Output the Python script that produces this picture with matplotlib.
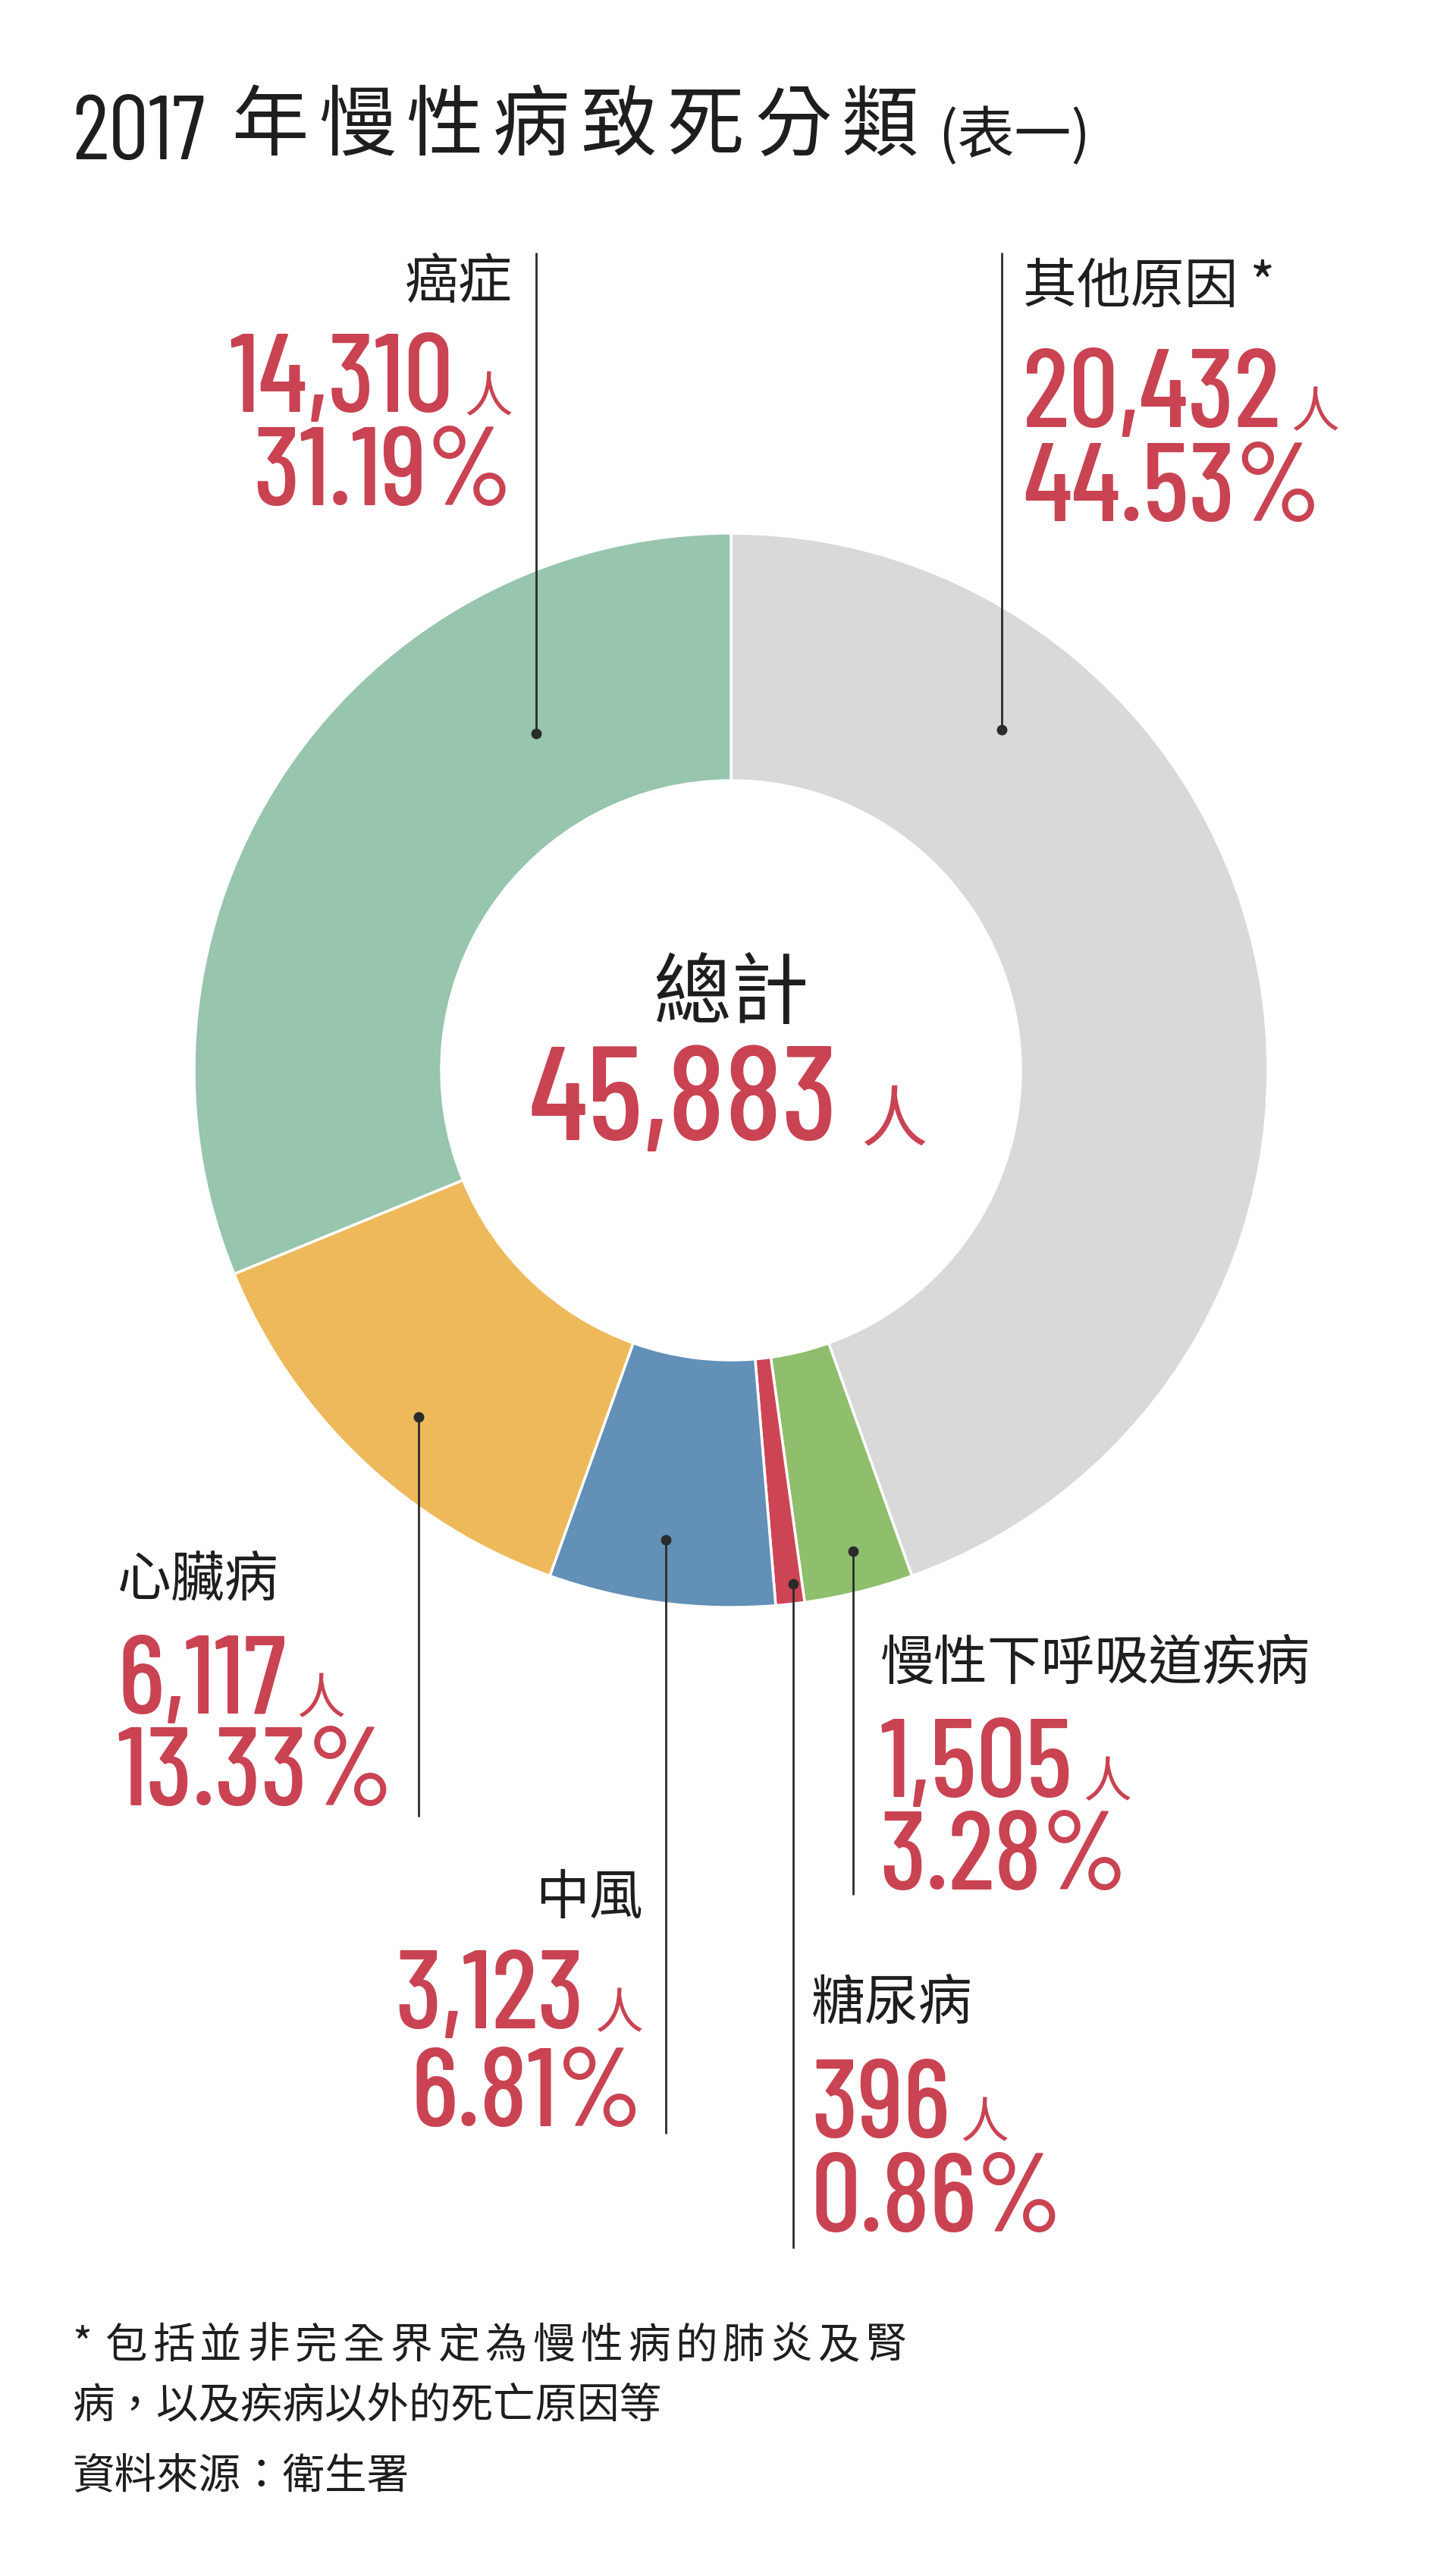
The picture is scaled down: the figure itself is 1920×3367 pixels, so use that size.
import matplotlib
matplotlib.use('Agg')
import matplotlib.pyplot as plt
from matplotlib import font_manager as fm

# 2017 chronic disease deaths (Hong Kong, Department of Health)
categories = ['其他原因', '慢性下呼吸道疾病', '糖尿病', '中風', '心臟病', '癌症']
deaths = [20432, 1505, 396, 3123, 6117, 14310]
shares = [44.53, 3.28, 0.86, 6.81, 13.33, 31.19]
colors = ['#d9d9d9', '#8fbe6d', '#cd4455', '#6290b6', '#edb95b', '#97c5ad']

W, H = 1920, 3367
CX, CY = 964, 1411
R_OUT, R_IN = 708, 382

RED = '#c94352'
INK = '#1e1e1e'
CJK = ['Noto Sans CJK TC', 'DejaVu Sans']

# condensed face for the figures, first one that is installed
available = {f.name for f in fm.fontManager.ttflist}
NUM = next(n for n in ['Barlow Condensed', 'Roboto Condensed', 'Sofia Sans Condensed',
                       'Liberation Sans'] if n in available)

# label layout (pixels from top): leader x, dot y, line end y, text x, align, label y, number baseline, pct baseline
layout = [
    (1321, 962, 333, 1349, 'left', 378, 563, 687),
    (1125, 2045, 2498, 1160, 'left', 2193, 2369, 2491),
    (1046, 2088, 2964, 1070, 'left', 2642, 2818, 2942),
    (878, 2030, 2813, 848, 'right', 2502, 2674, 2803),
    (552, 1868, 2395, 155, 'left', 2083, 2259, 2380),
    (707, 967, 333, 676, 'right', 372, 543, 666),
]


def Y(v):
    return H - v


fig = plt.figure(figsize=(W / 100, H / 100), dpi=100)
ax = fig.add_axes([0, 0, 1, 1])
ax.pie(deaths, colors=colors, startangle=90, counterclock=False,
       radius=R_OUT, center=(CX, Y(CY)),
       wedgeprops=dict(width=R_OUT - R_IN, edgecolor='white', linewidth=2.5))
ax.set_xlim(0, W)
ax.set_ylim(0, H)
ax.set_aspect('auto')
ax.axis('off')

renderer = fig.canvas.get_renderer()


def num_with_unit(x, y, num, ha, nsize, usize, gap):
    tn = ax.text(0, Y(y), num, fontsize=nsize, family=NUM, fontweight='medium',
                 color=RED, va='baseline')
    tu = ax.text(0, Y(y), '人', fontsize=usize, family=CJK, color=RED, va='baseline')
    wn = tn.get_window_extent(renderer).width
    wu = tu.get_window_extent(renderer).width
    total = wn + gap + wu
    x0 = {'left': x, 'right': x - total, 'center': x - total / 2}[ha]
    tn.set_x(x0)
    tu.set_x(x0 + wn + gap)


def spaced(x, y, s, pitch, **kw):
    for i, ch in enumerate(s):
        ax.text(x + i * pitch, Y(y), ch, **kw)


for i, name in enumerate(categories):
    lx, dot, end, tx, ha, ly, nb, pb = layout[i]
    ax.plot([lx, lx], [Y(dot), Y(end)], color='#2b2b2b', lw=2, solid_capstyle='butt')
    ax.plot(lx, Y(dot), 'o', ms=9, color='#2b2b2b')
    label = name + (' *' if i == 0 else '')
    ax.text(tx, Y(ly), label, fontsize=51, family=CJK, fontweight='medium', color=INK,
            ha=ha, va='center')
    num_with_unit(tx, nb, f'{deaths[i]:,}', ha, 105, 46, 14)
    ax.text(tx, Y(pb), f'{shares[i]:.2f}%', fontsize=105, family=NUM, fontweight='medium',
            color=RED, ha=ha, va='baseline')

# centre total
ax.text(CX, Y(1312), '總計', fontsize=74, family=CJK, fontweight='medium', color=INK,
        ha='center', va='center')
num_with_unit(CX - 4, 1503, f'{sum(deaths):,}', 'center', 126, 63, 30)

# title
ax.text(95, Y(210), '2017', fontsize=86, family=NUM, color=INK, va='baseline')
spaced(305, 167, '年慢性病致死分類', 115, fontsize=73, family=CJK, fontweight='medium',
       color=INK, va='center')
ax.text(1237, Y(202), '(表一)', fontsize=54, family=CJK, color=INK, va='baseline')

# notes
ax.text(95, Y(3093), '*', fontsize=40, family=CJK, color=INK, va='center')
spaced(138, 3093, '包括並非完全界定為慢性病的肺炎及腎', 62.7,
       fontsize=40, family=CJK, color=INK, va='center')
ax.text(95, Y(3172), '病，以及疾病以外的死亡原因等', fontsize=40, family=CJK, color=INK, va='center')
ax.text(95, Y(3265), '資料來源：衛生署', fontsize=40, family=CJK, color=INK, va='center')

fig.savefig('out.png', dpi=100, facecolor='white')
